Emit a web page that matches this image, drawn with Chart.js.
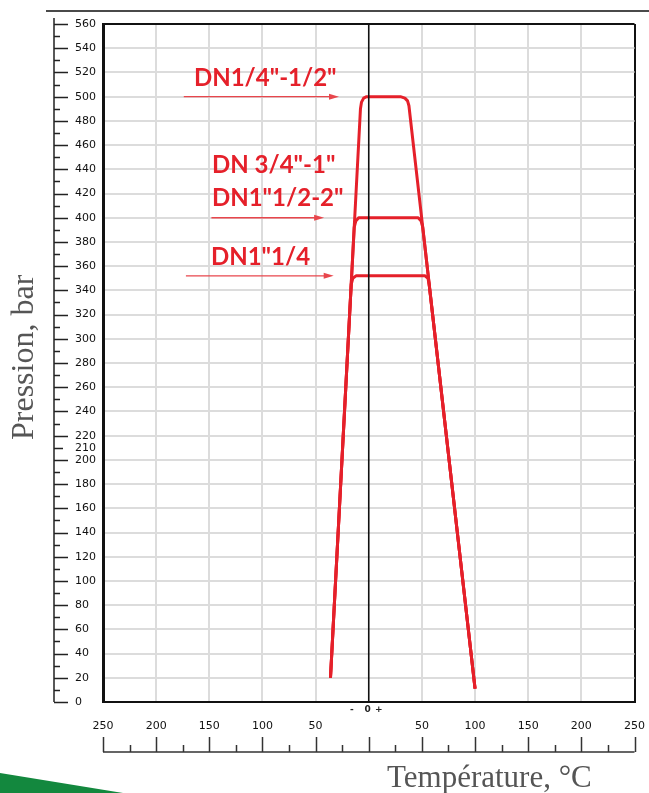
<!DOCTYPE html>
<html>
<head>
<meta charset="utf-8">
<script src="https://cdn.jsdelivr.net/npm/chart.js@4.4.1/dist/chart.umd.min.js"></script>
<style>
    html, body { margin: 0; padding: 0; background: #fff; }
    #wrap { position: relative; width: 649px; height: 793px; }
</style>
</head>
<body>
<div id="wrap"><canvas id="pressChart" width="649" height="793"></canvas></div>
<script>
// temperature (°C) and pressure (bar)
const tempBig = [-36, -7.8, -6.8, -4.8, -2, 29.8, 34, 36.5, 37.8, 100];
const pressBig = [20, 490, 495.5, 498.8, 500, 500, 498.8, 496.5, 492.5, 11];
const tempMid = [-36, -13.7, -12.2, -9.5, 46.5, 49.3, 50.8, 100];
const pressMid = [20, 392, 397.2, 400, 400, 397.2, 392, 11];
const tempSmall = [-36, -16.5, -15, -12, 53, 55.7, 56.8, 100];
const pressSmall = [20, 345, 350, 352, 352, 350, 345, 11];

const yTicks = [0, 20, 40, 60, 80, 100, 120, 140, 160, 180, 200, 210, 220, 240, 260, 280, 300,
    320, 340, 360, 380, 400, 420, 440, 460, 480, 500, 520, 540, 560];

const sizeLabels = ['DN1/4"-1/2"', 'DN 3/4"-1"', 'DN1"1/2-2"', 'DN1"1/4'];

// where the labels and arrows sit, in chart units
const notes = [
    { text: sizeLabels[0], x: -164.5, y: 509 },
    { text: sizeLabels[1], x: -147.5, y: 437 },
    { text: sizeLabels[2], x: -147.5, y: 410 },
    { text: sizeLabels[3], x: -148.5, y: 361 },
];
const arrows = [
    { from: -174, to: -28, at: 500 },
    { from: -148, to: -42, at: 400 },
    { from: -172, to: -33, at: 352 },
];

const RED = "#e5202a";

function pts(xs, ys) {
    return xs.map((v, i) => ({ x: v, y: ys[i] }));
}

const decor = {
    id: "decor",
    beforeDraw(chart) {
        const c = chart.ctx;
        c.save();
        // page rule on top
        c.strokeStyle = "#4a4a4a";
        c.lineWidth = 2;
        c.beginPath();
        c.moveTo(46, 11);
        c.lineTo(649, 11);
        c.stroke();
        // green corner
        c.fillStyle = "#13883e";
        c.beginPath();
        c.moveTo(0, 773);
        c.lineTo(123, 793);
        c.lineTo(0, 793);
        c.closePath();
        c.fill();
        c.restore();
    },
    afterDatasetsDraw(chart) {
        const { ctx: c, chartArea: a, scales: { x, y } } = chart;
        c.save();

        // zero line over the curves
        const x0 = x.getPixelForValue(0);
        c.strokeStyle = "#111";
        c.lineWidth = 1.6;
        c.beginPath();
        c.moveTo(x0, a.top);
        c.lineTo(x0, a.bottom);
        c.stroke();

        // size labels
        c.fillStyle = RED;
        c.font = "bold 24px Lato";
        c.textBaseline = "alphabetic";
        c.textAlign = "left";
        notes.forEach(n => c.fillText(n.text, x.getPixelForValue(n.x), y.getPixelForValue(n.y)));

        // arrows
        c.strokeStyle = "#e8464c";
        c.fillStyle = "#e8464c";
        c.lineWidth = 1.4;
        arrows.forEach(ar => {
            const x1 = x.getPixelForValue(ar.from);
            const x2 = x.getPixelForValue(ar.to);
            const py = y.getPixelForValue(ar.at);
            c.beginPath();
            c.moveTo(x1, py);
            c.lineTo(x2 - 6, py);
            c.stroke();
            c.beginPath();
            c.moveTo(x2, py);
            c.lineTo(x2 - 10, py - 3);
            c.lineTo(x2 - 10, py + 3);
            c.closePath();
            c.fill();
        });

        // y ruler
        const rx = 54;
        c.strokeStyle = "#222";
        c.lineWidth = 1.5;
        c.beginPath();
        c.moveTo(rx, y.getPixelForValue(y.max) - 6);
        c.lineTo(rx, y.getPixelForValue(0));
        for (let v = 0; v <= y.max; v += 10) {
            const py = Math.round(y.getPixelForValue(v)) + 0.5;
            const len = v % 20 === 0 ? 14 : (v === 210 ? 9 : 6);
            c.moveTo(rx, py);
            c.lineTo(rx + len, py);
        }
        c.stroke();

        // x ruler
        const ry = 752;
        c.strokeStyle = "#333";
        c.beginPath();
        c.moveTo(x.getPixelForValue(x.min), ry);
        c.lineTo(x.getPixelForValue(x.max), ry);
        for (let v = x.min; v <= x.max; v += 25) {
            const px = Math.round(x.getPixelForValue(v)) + 0.5;
            c.moveTo(px, ry);
            c.lineTo(px, v % 50 === 0 ? 737 : 745);
        }
        c.stroke();

        // - 0 + under the zero line
        c.fillStyle = "#222";
        c.font = "bold 9px 'DejaVu Sans'";
        c.textAlign = "center";
        c.textBaseline = "middle";
        c.fillText("-", x0 - 17, 710);
        c.fillText("0", x0 - 1, 710);
        c.fillText("+", x0 + 10, 710);

        // axis titles
        c.fillStyle = "#555";
        c.font = "31px 'Liberation Serif'";
        c.textAlign = "left";
        c.textBaseline = "alphabetic";
        c.fillText("Température, °C", 387, 787);
        c.font = "32px 'Liberation Serif'";
        c.translate(33, 440);
        c.rotate(-Math.PI / 2);
        c.fillText("Pression, bar", 0, 0);

        c.restore();
    },
};

const lineStyle = {
    showLine: true,
    borderColor: RED,
    backgroundColor: RED,
    borderWidth: 3,
    pointRadius: 0,
    tension: 0,
    borderJoinStyle: "round",
    fill: false,
};

const ctx = document.getElementById("pressChart").getContext("2d");

const chart = new Chart(ctx, {
    type: "scatter",
    data: {
        datasets: [
            { label: sizeLabels[0], data: pts(tempBig, pressBig), ...lineStyle },
            { label: sizeLabels[1] + " / " + sizeLabels[2], data: pts(tempMid, pressMid), ...lineStyle },
            { label: sizeLabels[3], data: pts(tempSmall, pressSmall), ...lineStyle },
        ],
    },
    options: {
        responsive: false,
        animation: false,
        layout: { padding: { left: 75, right: 14, top: 24, bottom: 0 } },
        plugins: {
            legend: { display: false },
            tooltip: { enabled: false },
        },
        scales: {
            x: {
                type: "linear",
                min: -250,
                max: 250,
                afterFit: s => { s.height = 91; },
                ticks: {
                    stepSize: 50,
                    autoSkip: false,
                    maxRotation: 0,
                    padding: 4,
                    color: "#111",
                    font: { family: "DejaVu Sans", size: 11 },
                    callback: v => (v === 0 ? "" : Math.abs(v)),
                },
                grid: {
                    drawTicks: true,
                    tickLength: 14,
                    tickColor: "rgba(0,0,0,0)",
                    color: c => (Math.abs(c.tick.value) === 250 ? "#111" : (c.tick.value === 0 ? "rgba(0,0,0,0)" : "#dcdcdc")),
                    lineWidth: c => (c.tick.value === -250 ? 3 : 2),
                },
                border: { display: true, color: "#111", width: 2 },
            },
            y: {
                type: "linear",
                min: 0,
                max: 560,
                afterFit: s => { s.width = 28; },
                afterBuildTicks: s => { s.ticks = yTicks.map(v => ({ value: v })); },
                ticks: {
                    crossAlign: "far",
                    color: "#111",
                    font: { family: "DejaVu Sans", size: 11 },
                },
                grid: {
                    drawTicks: false,
                    color: c => (c.tick.value === 560 ? "#111" : (c.tick.value === 210 ? "rgba(0,0,0,0)" : "#dcdcdc")),
                    lineWidth: 2,
                },
                border: { display: true, color: "#111", width: 3 },
            },
        },
    },
    plugins: [decor],
});
</script>
</body>
</html>
